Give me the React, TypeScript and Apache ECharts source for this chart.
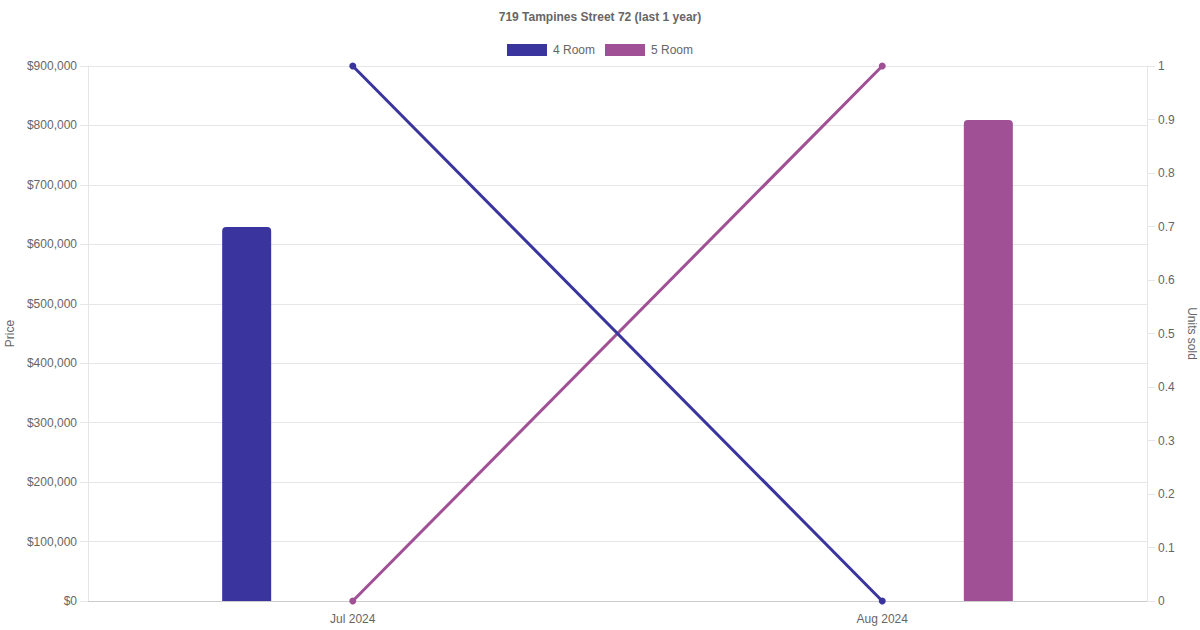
import React, { useEffect, useRef } from "react";
import * as echarts from "echarts";

const titleText = "719 Tampines Street 72 (last 1 year)";
const months = ["Jul 2024", "Aug 2024"];
const seriesNames = ["4 Room", "5 Room"];
const priceFourRoom: (number | null)[] = [629000, null];
const priceFiveRoom: (number | null)[] = [null, 809000];
const unitsFourRoom = [1, 0];
const unitsFiveRoom = [0, 1];
const colorFour = "#3a359e";
const colorFive = "#a05094";

const FONT = "'Liberation Sans', Arial, Helvetica, sans-serif";

export default function App() {
  const ref = useRef<HTMLDivElement>(null);
  useEffect(() => {
    if (!ref.current) return;
    const chart = echarts.init(ref.current, undefined, { renderer: "svg" });
    chart.setOption({
      animation: false,
      backgroundColor: "#ffffff",
      textStyle: { fontFamily: FONT },
      title: {
        text: titleText,
        left: "center",
        top: 6,
        textStyle: { fontSize: 12, fontWeight: "bold", color: "#666", fontFamily: FONT },
      },
      legend: {
        data: seriesNames,
        top: 39,
        left: "center",
        icon: "rect",
        itemWidth: 40,
        itemHeight: 12,
        itemGap: 10,
        textStyle: { fontSize: 12, color: "#666", fontFamily: FONT, padding: [0, 0, 0, 1] },
      },
      grid: { left: 88, right: 53, top: 66, bottom: 29, containLabel: false, outerBoundsMode: "none" },
      xAxis: {
        type: "category",
        data: months,
        boundaryGap: true,
        axisLine: { show: true, lineStyle: { color: "#cccccc", width: 1 } },
        axisTick: { show: false },
        axisLabel: { color: "#666", fontSize: 12, margin: 12, fontFamily: FONT },
        splitLine: { show: false },
      },
      yAxis: [
        {
          type: "value",
          min: 0,
          max: 900000,
          interval: 100000,
          name: "Price",
          nameLocation: "middle",
          nameGap: 72,
          nameRotate: 90,
          nameTextStyle: { color: "#666", fontSize: 12, fontFamily: FONT },
          axisLine: { show: true, lineStyle: { color: "#e6e6e6" } },
          axisTick: { show: true, length: 8, lineStyle: { color: "#e6e6e6" } },
          axisLabel: {
            color: "#666",
            fontSize: 12,
            margin: 11,
            fontFamily: FONT,
            formatter: (v: number) => "$" + v.toLocaleString("en-US"),
          },
          splitLine: { show: true, lineStyle: { color: "#e6e6e6" } },
        },
        {
          type: "value",
          position: "right",
          min: 0,
          max: 1,
          interval: 0.1,
          name: "Units sold",
          nameLocation: "middle",
          nameGap: 35,
          nameRotate: -90,
          nameTextStyle: { color: "#666", fontSize: 12, fontFamily: FONT },
          axisLine: { show: true, lineStyle: { color: "#e6e6e6" } },
          axisTick: { show: true, length: 8, lineStyle: { color: "#e6e6e6" } },
          axisLabel: {
            color: "#666",
            fontSize: 12,
            margin: 11,
            fontFamily: FONT,
            formatter: (v: number) => String(Math.round(v * 10) / 10),
          },
          splitLine: { show: false },
        },
      ],
      series: [
        {
          name: seriesNames[0],
          type: "bar",
          yAxisIndex: 0,
          data: priceFourRoom,
          barWidth: 49,
          barGap: "333%",
          itemStyle: { color: colorFour, borderRadius: [4, 4, 0, 0] },
        },
        {
          name: seriesNames[1],
          type: "bar",
          yAxisIndex: 0,
          data: priceFiveRoom,
          barWidth: 49,
          barGap: "333%",
          itemStyle: { color: colorFive, borderRadius: [4, 4, 0, 0] },
        },
        {
          name: seriesNames[1],
          type: "line",
          yAxisIndex: 1,
          data: unitsFiveRoom,
          symbol: "circle",
          symbolSize: 7,
          showSymbol: true,
          lineStyle: { color: colorFive, width: 3 },
          itemStyle: { color: colorFive },
          z: 3,
        },
        {
          name: seriesNames[0],
          type: "line",
          yAxisIndex: 1,
          data: unitsFourRoom,
          symbol: "circle",
          symbolSize: 7,
          showSymbol: true,
          lineStyle: { color: colorFour, width: 3 },
          itemStyle: { color: colorFour },
          z: 4,
        },
      ],
    });
    return () => chart.dispose();
  }, []);
  return (
    <div
      ref={ref}
      style={{ position: "absolute", left: 0, top: 0, width: 1200, height: 630, background: "#fff" }}
    />
  );
}
